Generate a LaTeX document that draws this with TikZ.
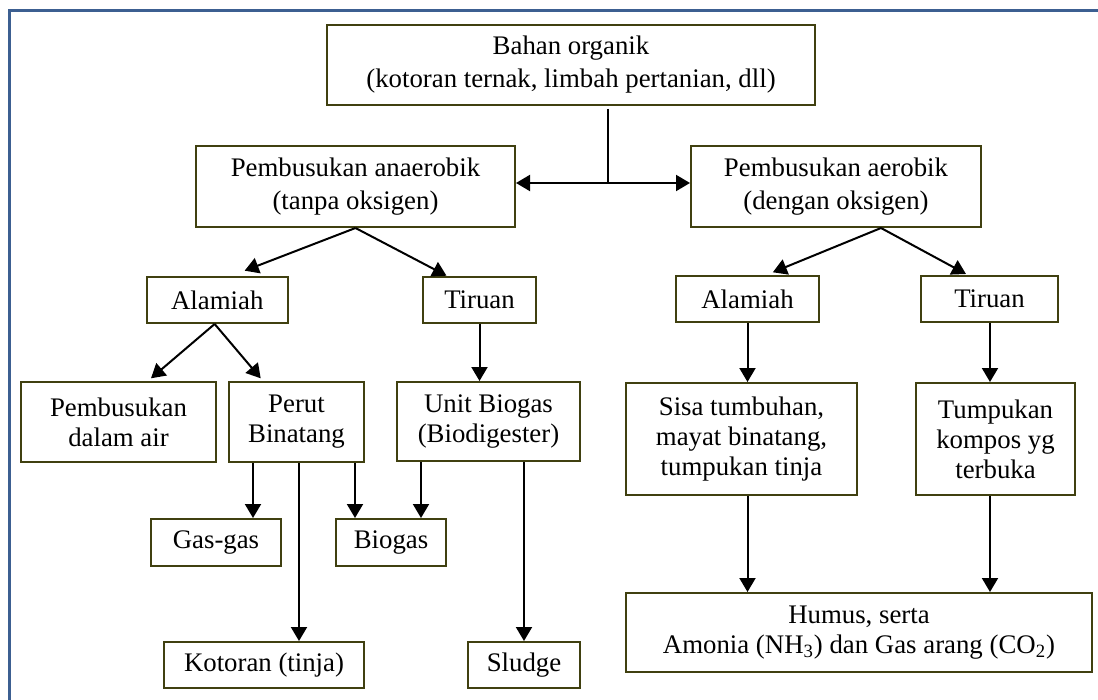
\documentclass[tikz,border=0pt]{standalone}
\usepackage{fontspec}
\setmainfont{Liberation Serif}
\usetikzlibrary{arrows.meta,calc}
\definecolor{boxc}{RGB}{64,64,16}
\definecolor{framec}{RGB}{60,95,145}
\newcommand\bxn[7]{\node[#1, minimum width={(#5-#3)*0.5pt}, minimum height={(#6-#4)*0.5pt}] (#2) at ({(#3+#5)/2},{(#4+#6)/2}) {#7};}
\begin{document}
\begin{tikzpicture}[x=0.5pt,y=-0.5pt,
  box/.style={draw=boxc, line width=1pt, inner sep=0pt, align=center, font=\fontsize{13.4}{15}\selectfont},
  bigbox/.style={box, font=\fontsize{13.4}{16.5}\selectfont},
  arr/.style={line width=1pt, -{Triangle[length=7pt,width=8pt]}},
  ln/.style={line width=1pt}]
\useasboundingbox (0,0) rectangle (1098,700);
\draw[framec, line width=1.5pt] (9,700) -- (9,11) -- (1098,11);

% boxes
\bxn{bigbox}{bahan}{327}{25}{815}{105}{Bahan organik\\(kotoran ternak, limbah pertanian, dll)}
\bxn{bigbox}{anaer}{196}{146}{515}{227}{Pembusukan anaerobik\\(tanpa oksigen)}
\bxn{bigbox}{aer}{691}{146}{981}{227}{Pembusukan aerobik\\(dengan oksigen)}
\bxn{box}{alamL}{147}{277}{287.5}{323}{Alamiah}
\bxn{box}{tirL}{423}{277}{536}{323}{Tiruan}
\bxn{box}{alamR}{676}{276}{819}{322}{Alamiah}
\bxn{box}{tirR}{921}{276}{1058}{322}{Tiruan}
\bxn{box}{air}{21}{382}{216}{462}{Pembusukan\\dalam air}
\bxn{box}{perut}{229}{382}{364}{462}{Perut\\Binatang}
\bxn{box}{unit}{397}{382}{580}{461}{Unit Biogas\\(Biodigester)}
\bxn{box}{sisa}{626}{383}{857}{495}{Sisa tumbuhan,\\mayat binatang,\\tumpukan tinja}
\bxn{box}{tump}{916}{383}{1075}{495}{Tumpukan\\kompos yg\\terbuka}
\bxn{box}{gas}{151}{519}{281}{566}{Gas-gas}
\bxn{box}{biogas}{336}{519}{446}{566}{Biogas}
\bxn{box}{kotoran}{164}{642}{364}{688}{Kotoran (tinja)}
\bxn{box}{sludge}{468}{642}{580}{688}{Sludge}
\bxn{box}{humus}{626}{593}{1092}{672}{Humus, serta\\Amonia (NH\textsubscript{3}) dan Gas arang (CO\textsubscript{2})}

% helper coordinates
\coordinate (j) at (608,183);
\coordinate (xg) at (253,0);
\coordinate (xk) at (299,0);
\coordinate (xpb) at (355,0);
\coordinate (xub) at (421,0);
\coordinate (xs) at (524,0);
\coordinate (xa) at (747.5,0);
\coordinate (xb) at (990,0);

% connectors
\draw[ln] ($(bahan.south -| j)+(0,3)$) -- (j);
\draw[arr] (j) -- (j -| anaer.east);
\draw[arr] (j) -- (j -| aer.west);

\draw[arr] (anaer.south) -- ($(alamL.north)+(27.4,-5.3)$);
\draw[arr] (anaer.south) -- ($(tirL.north)+(-33,-0.3)$);
\draw[arr] ($(aer.south)+(45,0)$) -- ($(alamR.north)+(25.3,-2.7)$);
\draw[arr] ($(aer.south)+(45,0)$) -- ($(tirR.north)+(-23.5,-1)$);

\draw[arr] ($(alamL.south)+(-2.6,0)$) -- ($(air.north)+(32.5,-2.7)$);
\draw[arr] ($(alamL.south)+(-2.6,0)$) -- ($(perut.north)+(-35.8,-2.7)$);
\draw[arr] (tirL.south) -- (tirL.south |- unit.north);
\draw[arr] (alamR.south -| xa) -- (sisa.north -| xa);
\draw[arr] (tirR.south -| xb) -- (tump.north -| xb);

\draw[arr] (perut.south -| xg) -- (gas.north -| xg);
\draw[arr] (perut.south -| xk) -- (kotoran.north -| xk);
\draw[arr] (perut.south -| xpb) -- (biogas.north -| xpb);
\draw[arr] (unit.south -| xub) -- (biogas.north -| xub);
\draw[arr] (unit.south -| xs) -- (sludge.north -| xs);
\draw[arr] (sisa.south -| xa) -- (humus.north -| xa);
\draw[arr] (tump.south -| xb) -- (humus.north -| xb);
\end{tikzpicture}
\end{document}
